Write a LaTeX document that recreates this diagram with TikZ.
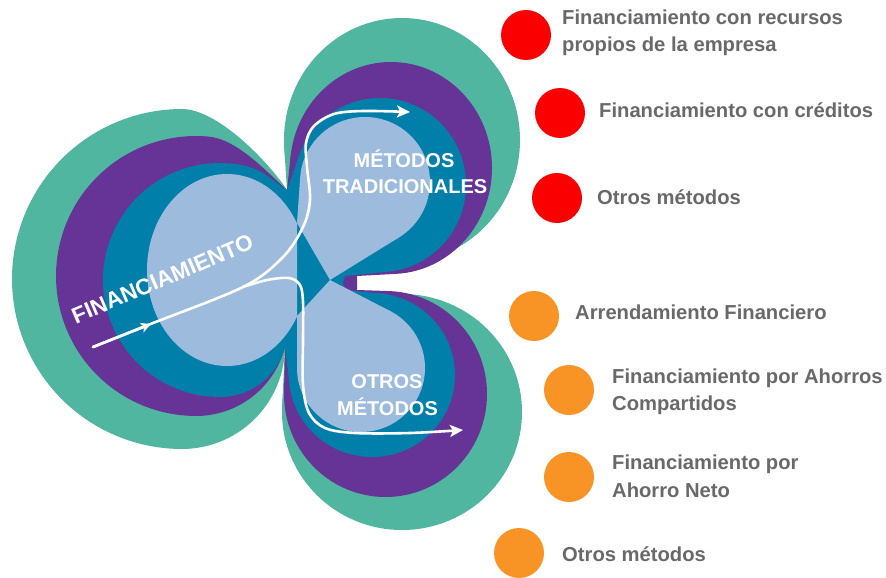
\documentclass[tikz,border=0pt]{standalone}
\usepackage{fontspec}
\setmainfont{Liberation Sans}
\usetikzlibrary{arrows.meta}

\definecolor{cteal}{RGB}{80,182,160}
\definecolor{cpurple}{RGB}{102,52,150}
\definecolor{cblue}{RGB}{0,127,170}
\definecolor{clight}{RGB}{156,187,221}
\definecolor{cred}{RGB}{250,0,0}
\definecolor{corange}{RGB}{248,148,38}
\definecolor{ctext}{RGB}{105,105,108}

\newcommand\setell[4]{\def\ecx{#1}\def\ecy{#2}\def\erx{#3}\def\ery{#4}}
\newcommand\tanpt[4]{%
  \pgfmathsetmacro\tux{(#1-\ecx)/\erx}%
  \pgfmathsetmacro\tuy{(#2-\ecy)/\ery}%
  \pgfmathsetmacro\tud{max(1,veclen(\tux,\tuy))}%
  \pgfmathsetmacro\tua{atan2(\tuy,\tux)}%
  \pgfmathsetmacro\tub{acos(min(1,1/\tud))}%
  \pgfmathsetmacro\tut{\tua+(#3)*\tub}%
  \pgfmathsetmacro\tanx{\ecx+\erx*cos(\tut)}%
  \pgfmathsetmacro\tany{\ecy+\ery*sin(\tut)}%
  \coordinate (#4) at (\tanx,\tany);%
}
\newcommand\fillell[1]{\fill[#1] (\ecx,\ecy) ellipse [x radius=\erx, y radius=\ery];}

\tikzset{
  dot/.style={circle, minimum size=50pt, inner sep=0pt, draw=none},
  item/.style={font=\fontsize{20.2}{24}\selectfont\bfseries, text=ctext, inner sep=0pt, anchor=base west},
  lbl/.style={font=\fontsize{20}{24}\selectfont\bfseries, text=white, inner sep=0pt, anchor=base},
  flow/.style={draw=white, line width=2.6pt, line cap=round},
  tipa/.style={-{Stealth[length=13pt,width=12pt,inset=3pt]}},
  tipm/.style={-{Stealth[length=10pt,width=10pt,inset=2.5pt]}}
}

\begin{document}
\begin{tikzpicture}[x=1pt,y=-1pt]
\useasboundingbox (0,0) rectangle (886,578);
\fill[white] (0,0) rectangle (886,578);

% key points
\coordinate (V1) at (287,190);
\coordinate (V2) at (285,347);
\coordinate (X) at (335,283);
\coordinate (N) at (357,283);
\coordinate (Nt) at (357,276);
\coordinate (Nb) at (357,290);
\coordinate (B1) at (343,283);
\coordinate (Bt) at (345,276);
\coordinate (Bb) at (345,290);
\coordinate (Tt) at (345,277);
\coordinate (Tb) at (345,292);
\coordinate (XL) at (330,280);
\coordinate (Q1) at (297,223);
\coordinate (Q2) at (297,316);

% ---------- teal ----------
\fill[cteal] (V2) -- plot[domain=0.6:90, samples=40] ({182+103*cos(\x)},{346+103*sin(\x)})
  -- plot[domain=90:270, samples=90] ({182+170*cos(\x)},{279+170*sin(\x)})
  .. controls (217,109) and (267.75,160.8) .. (V1) -- (X) -- cycle;

\setell{402}{140}{118}{122}
\tanpt{287}{190}{1}{tta}\tanpt{345}{277}{-1}{ttb}
\fillell{cteal}
\fill[cteal] (\ecx,\ecy) -- (tta) -- (V1) -- (X) -- (Tt) -- (ttb) -- cycle;

\setell{402}{412}{120}{118}
\tanpt{345}{292}{1}{bta}\tanpt{285}{347}{-1}{btb}
\fillell{cteal}
\fill[cteal] (\ecx,\ecy) -- (bta) -- (Tb) -- (X) -- (V2) -- (btb) -- cycle;

% ---------- purple ----------
\fill[cpurple] (V2) -- plot[domain=14.4:90, samples=40] ({196+91.9*cos(\x)},{324.1+91.9*sin(\x)})
  -- plot[domain=90:275, samples=90] ({196+140*cos(\x)},{276+140*sin(\x)})
  .. controls (238.1,139.1) and (268.1,173.6) .. (V1) -- (X) -- cycle;

\setell{391}{168}{101}{106}
\tanpt{287}{190}{1}{tpa}\tanpt{357}{276}{-1}{tpb}
\fillell{cpurple}
\fill[cpurple] (\ecx,\ecy) -- (tpa) -- (V1) -- (X) -- (N) -- (Nt) -- (tpb) -- cycle;

\setell{385.5}{394}{101.5}{103}
\tanpt{357}{290}{1}{bpa}\tanpt{285}{347}{-1}{bpb}
\fillell{cpurple}
\fill[cpurple] (\ecx,\ecy) -- (bpa) -- (Nb) -- (N) -- (X) -- (V2) -- (bpb) -- cycle;

% ---------- blue ----------
\fill[cblue] (V2) -- plot[domain=14.9:90, samples=40] ({220+67.25*cos(\x)},{329.75+67.25*sin(\x)})
  -- plot[domain=90:282.3, samples=90] ({220+117*cos(\x)},{280+117*sin(\x)})
  .. controls (264.4,170) and (276.5,184.1) .. (V1) -- (X) -- cycle;

\setell{380}{185}{86}{87}
\tanpt{287}{190}{1}{tba}\tanpt{345}{276}{-1}{tbb}
\fillell{cblue}
\fill[cblue] (\ecx,\ecy) -- (tba) -- (V1) -- (X) -- (B1) -- (Bt) -- (tbb) -- cycle;

\setell{372}{375}{83}{82}
\tanpt{345}{290}{1}{bba}\tanpt{285}{347}{-1}{bbb}
\fillell{cblue}
\fill[cblue] (\ecx,\ecy) -- (bba) -- (Bb) -- (B1) -- (X) -- (V2) -- (bbb) -- cycle;

% ---------- light blue ----------
\begin{scope}
  \clip (0,0) rectangle (297,578);
  \fill[clight] (227,270) ellipse [x radius=80, y radius=96];
\end{scope}

\setell{365}{182}{65}{65}
\tanpt{297}{223}{1}{tla}\tanpt{330}{280}{-1}{tlb}
\fillell{clight}
\fill[clight] (\ecx,\ecy) -- (tla) -- (Q1) -- (XL) -- (tlb) -- cycle;

\setell{361}{368}{64}{64}
\tanpt{330}{280}{1}{bla}\tanpt{297}{316}{-1}{blb}
\fillell{clight}
\fill[clight] (\ecx,\ecy) -- (bla) -- (XL) -- (Q2) -- (blb) -- cycle;

% ---------- white flow arrows ----------
\coordinate (fs) at (93,347);
\coordinate (fm) at (151,324);
\draw[flow, tipa]
  plot[smooth, tension=0.55] coordinates {(93,347) (148,325) (243,287) (283,257) (303,227) (310,200) (307,167) (306,143) (314,126) (334,114) (363,111) (410,112)};
\draw[flow, tipm] (fs) -- (fm);
\draw[flow, tipa]
  plot[smooth, tension=0.55] coordinates {(243,287) (267,280) (289,278) (300,285) (303,302) (303,340) (303,385) (309,413) (325,428) (355,433) (410,433) (463,430)};

% ---------- lobe labels ----------
\node[lbl, anchor=center, rotate=23, font=\fontsize{22.5}{26}\selectfont\bfseries] (fin) at (162.5,279) {FINANCIAMIENTO};
\node[lbl] (mt1) at (404,167) {MÉTODOS};
\node[lbl] (mt2) at (405,193) {TRADICIONALES};
\node[lbl] (om1) at (387,388) {OTROS};
\node[lbl] (om2) at (387.5,415) {MÉTODOS};

% ---------- right list ----------
\node[dot, fill=cred] (r1) at (526,35) {};
\node[dot, fill=cred] (r2) at (560,113) {};
\node[dot, fill=cred] (r3) at (557,198) {};
\node[dot, fill=corange] (o1) at (534,316) {};
\node[dot, fill=corange] (o2) at (569,390) {};
\node[dot, fill=corange] (o3) at (569,477) {};
\node[dot, fill=corange] (o4) at (519,553) {};

\node[item] (t1a) at (562,25) {Financiamiento con recursos};
\node[item] (t1b) at (562,52) {propios de la empresa};
\node[item] (t2) at (599,117.5) {Financiamiento con créditos};
\node[item] (t3) at (597,204.5) {Otros métodos};
\node[item] (t4) at (575,319.5) {Arrendamiento Financiero};
\node[item] (t5a) at (612,383) {Financiamiento por Ahorros};
\node[item] (t5b) at (612,410) {Compartidos};
\node[item] (t6a) at (612,469.5) {Financiamiento por};
\node[item] (t6b) at (612,497) {Ahorro Neto};
\node[item] (t7) at (562,561.5) {Otros métodos};
\end{tikzpicture}
\end{document}
